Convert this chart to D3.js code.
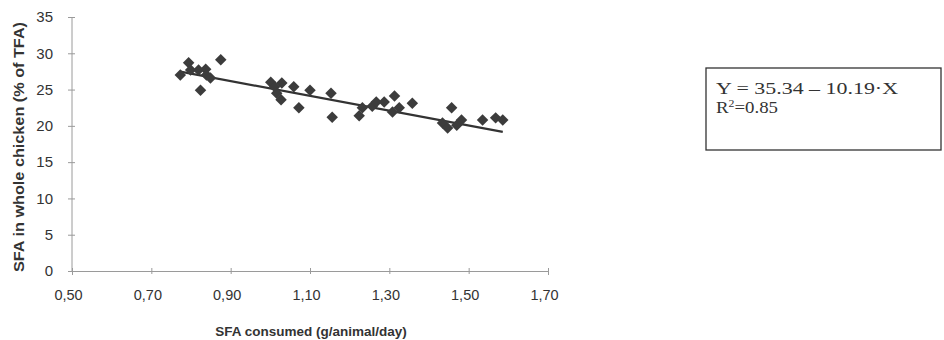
<!DOCTYPE html>
<html><head><meta charset="utf-8">
<script src="https://cdn.jsdelivr.net/npm/d3@7"></script>
<style>
html,body{margin:0;padding:0;background:#fff;}
svg{display:block;}
</style></head>
<body>
<svg id="chart" width="944" height="340"></svg>
<script>
// Data
const sfaConsumed = [0.773,0.794,0.799,0.819,0.837,0.839,0.849,0.824,0.875,
  1.001,1.011,1.029,1.027,1.016,1.072,1.059,1.100,1.153,1.156,
  1.224,1.232,1.257,1.267,1.287,1.313,1.308,1.325,1.358,
  1.457,1.434,1.447,1.470,1.482,1.535,1.568,1.586];
const sfaChicken = [27.0,28.7,27.7,27.7,27.8,27.0,26.6,24.9,29.1,
  26.0,25.4,25.9,23.6,24.5,22.5,25.4,24.9,24.5,21.2,
  21.4,22.5,22.7,23.3,23.3,24.1,21.9,22.5,23.1,
  22.5,20.4,19.7,20.1,20.8,20.8,21.1,20.8];
const xTicks = [0.5,0.7,0.9,1.1,1.3,1.5,1.7];
const xTickLabels = ["0,50","0,70","0,90","1,10","1,30","1,50","1,70"];
const yTicks = [0,5,10,15,20,25,30,35];
const fitIntercept = 35.34, fitSlope = -10.19;
const eqLine1 = "Y = 35.34 \u2013 10.19\u00B7X";
const eqR2 = "0.85";
const xTitle = "SFA consumed (g/animal/day)";
const yTitle = "SFA in whole chicken (% of TFA)";

const svg = d3.select("#chart");
const x = d3.scaleLinear().domain([0.5,1.7]).range([72,548]);
const y = d3.scaleLinear().domain([0,35]).range([271,17]);
const sans = "Liberation Sans, Arial, sans-serif";

// axes
const axisColor = "#9a9a9a";
const gx = svg.append("g").attr("transform",`translate(0,${y(0)})`)
  .call(d3.axisBottom(x).tickValues(xTicks).tickSize(4).tickFormat((d,i)=>xTickLabels[i]));
gx.select(".domain").attr("stroke",axisColor);
gx.selectAll(".tick line").attr("stroke",axisColor).attr("y1",-3).attr("y2",3);
gx.selectAll(".tick text").attr("font-family",sans)
  .attr("font-size",14.5).attr("fill","#333").attr("dy","1.55em").attr("dx",-4);

const gy = svg.append("g").attr("transform",`translate(${x(0.5)},0)`)
  .call(d3.axisLeft(y).tickValues(yTicks).tickSize(4).tickPadding(15));
gy.select(".domain").attr("stroke",axisColor).attr("d",`M0,${y(35)}V${y(0)}`);
gy.selectAll(".tick line").attr("stroke",axisColor).attr("x1",-4).attr("x2",3);
gy.selectAll(".tick text").attr("font-family",sans)
  .attr("font-size",15).attr("fill","#333");

// titles
svg.append("text").attr("x",311).attr("y",336).attr("text-anchor","middle")
  .attr("font-family",sans).attr("font-weight","bold")
  .attr("font-size",13.5).attr("fill","#333").text(xTitle);
svg.append("text").attr("transform",`translate(24,${(y(0)+y(35))/2+3}) rotate(-90)`)
  .attr("text-anchor","middle")
  .attr("font-family",sans).attr("font-weight","bold")
  .attr("font-size",14).attr("fill","#333")
  .attr("textLength",250).attr("lengthAdjust","spacingAndGlyphs").text(yTitle);

// regression line
const xr = d3.extent(sfaConsumed);
const line = d3.line().x(d=>x(d)).y(d=>y(fitIntercept+fitSlope*d));
svg.append("path").datum(xr).attr("d",line).attr("stroke","#333").attr("stroke-width",2.2).attr("fill","none");

// points
const sym = d3.symbol().type(d3.symbolSquare).size(66);
svg.append("g").selectAll("path").data(sfaConsumed).join("path")
  .attr("d",sym)
  .attr("transform",(d,i)=>`translate(${x(d)},${y(sfaChicken[i])}) rotate(45)`)
  .attr("fill","#3c3c3c");

// equation box
svg.append("rect").attr("x",706).attr("y",68).attr("width",235).attr("height",82)
  .attr("fill","#fff").attr("stroke","#333").attr("stroke-width",1.3);
const eq = svg.append("g").attr("font-family","Liberation Serif, Times New Roman, serif")
  .attr("font-size",16).attr("fill","#333");
eq.append("text").attr("x",716).attr("y",94)
  .attr("textLength",182).attr("lengthAdjust","spacingAndGlyphs").text(eqLine1);
const t2 = eq.append("text").attr("x",716).attr("y",113)
  .attr("textLength",62).attr("lengthAdjust","spacingAndGlyphs");
t2.append("tspan").text("R");
t2.append("tspan").attr("dy",-6).attr("font-size",10).text("2");
t2.append("tspan").attr("dy",6).text("=" + eqR2);
</script>
</body></html>
